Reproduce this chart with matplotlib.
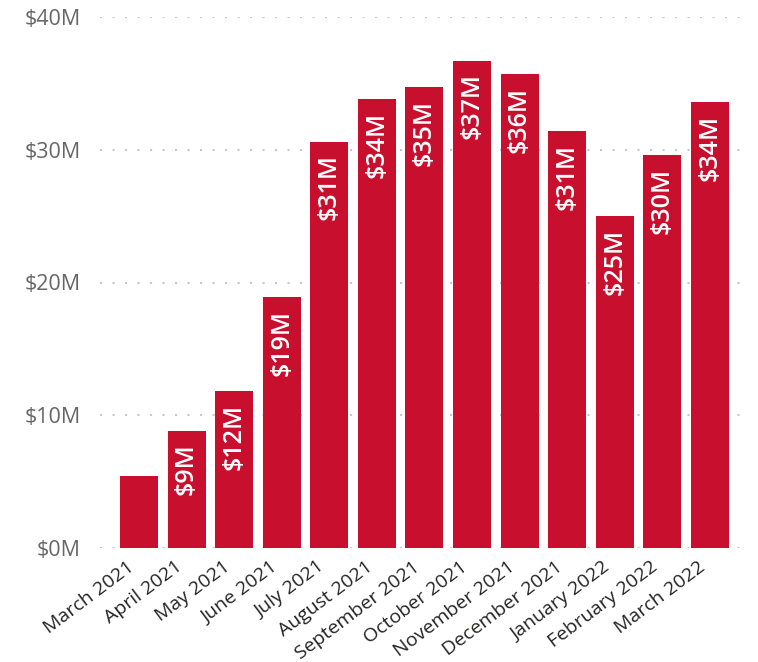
import matplotlib.pyplot as plt
import matplotlib.transforms as mtransforms
from matplotlib.ticker import FuncFormatter

# Monthly revenue, in millions of dollars
months = ['March 2021', 'April 2021', 'May 2021', 'June 2021', 'July 2021',
          'August 2021', 'September 2021', 'October 2021', 'November 2021',
          'December 2021', 'January 2022', 'February 2022', 'March 2022']
revenue = [5.4, 8.8, 11.8, 18.9, 30.6, 33.8, 34.7, 36.7, 35.7, 31.4, 25.0, 29.6, 33.6]
y_ticks = [0, 10, 20, 30, 40]

plt.rcParams['font.family'] = ['Open Sans', 'DejaVu Sans']

fig = plt.figure(figsize=(7.58, 6.62), dpi=100)
ax = fig.add_axes([100 / 758, 1 - 548 / 662, 645 / 758, 531 / 662])

x = range(len(months))
bars = ax.bar(x, revenue, width=0.8, color='#C8102E', zorder=3)

# Value labels inside the top of each bar (skip bars too short to hold one)
for bar, v in zip(bars, revenue):
    if v < 7:
        continue
    ax.annotate(f'${round(v)}M', (bar.get_x() + bar.get_width() / 2, v),
                xytext=(0, -9), textcoords='offset points',
                rotation=90, ha='center', va='top', color='white',
                fontsize=18, fontweight='semibold', zorder=4)

ax.set_xlim(-0.82, len(months) - 1 + 0.74)
ax.set_ylim(0, 40)
ax.set_yticks(y_ticks)
ax.yaxis.set_major_formatter(FuncFormatter(lambda v, p: f'${v:.0f}M'))
ax.grid(axis='y', color='#c8c8c8', linestyle=(0, (1, 5)), linewidth=1.5, zorder=0)

ax.set_xticks(list(x))
ax.set_xticklabels(months, rotation=37, ha='right', va='top',
                   rotation_mode='anchor', fontsize=14, color='#252423')
ax.tick_params(axis='x', length=0, pad=7)
ax.tick_params(axis='y', length=0, pad=14, labelsize=15.5, labelcolor='#666666')

# nudge the slanted month labels so they end just left of each bar centre
shift = mtransforms.ScaledTranslation(-12 / 100, 0, fig.dpi_scale_trans)
for lbl in ax.get_xticklabels():
    lbl.set_transform(lbl.get_transform() + shift)

for s in ax.spines.values():
    s.set_visible(False)

plt.savefig('out.png', dpi=100)
